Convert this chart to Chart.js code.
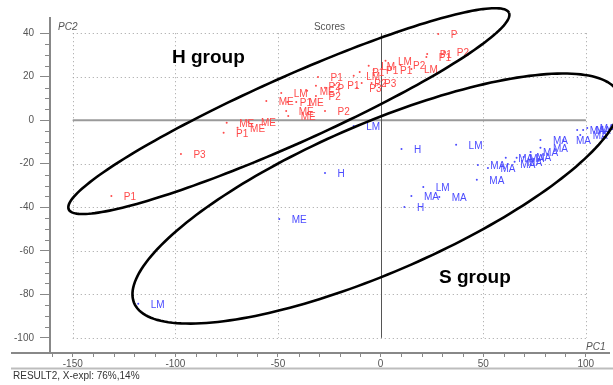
<!DOCTYPE html>
<html>
<head>
<meta charset="utf-8">
<script src="https://cdn.jsdelivr.net/npm/chart.js@4.4.1/dist/chart.umd.min.js"></script>
<style>
  html, body { margin: 0; padding: 0; background: #fff; }
  #wrap { width: 613px; height: 385px; }
</style>
</head>
<body>
<div id="wrap"><canvas id="chart-1" width="613" height="385"></canvas></div>
<script>
// H group (red) samples
const hNames = ['P1', 'P3', 'ME', 'P1', 'ME', 'ME', 'ME', 'LM', 'P1', 'ME', 'ME', 'ME',
                'P2', 'P1', 'ME', 'P2', 'P', 'P2', 'P1', 'LM', 'P1', 'LM', 'P1', 'P1',
                'LM', 'P2', 'LM', 'P1', 'P1', 'P2', 'P', 'P2', 'P3', 'P3'];
const hPC1 = [-131.2, -97.3, -75.0, -76.5, -69.7, -64.4, -55.7, -48.4, -45.5, -41.1, -46.0, -45.0,
              -27.1, -30.5, -35.8, -31.5, -27.1, -31.5, -22.3, -13.1, -10.2, -5.8, -3.4, 3.4,
              2.4, 9.7, 15.0, 22.3, 22.7, 31.0, 28.1, -9.2, -4.4, -11.6];
const hPC2 = [-34.8, -15.5, -1.2, -5.8, -3.5, -0.8, 8.9, 12.5, 8.4, 8.4, 4.3, 2.0,
              4.3, 19.9, 13.5, 15.8, 14.9, 11.2, 16.2, 20.4, 22.2, 25.0, 23.1, 23.1,
              27.3, 25.4, 23.6, 29.1, 30.5, 31.4, 39.7, 17.1, 17.1, 14.9];

// S group (blue) samples
const sNames = ['LM', 'ME', 'H', 'LM', 'H', 'LM', 'LM', 'MA', 'MA', 'H', 'MA', 'MA',
                'MA', 'MA', 'MA', 'MA', 'MA', 'MA', 'MA', 'MA', 'MA', 'MA', 'MA', 'MA',
                'MA', 'MA'];
const sPC1 = [-118.1, -49.4, -27.1, -13.1, 10.2, 36.8, 20.8, 15.0, 28.6, 11.6, 46.9, 47.4,
              52.3, 61.0, 62.0, 66.3, 69.7, 77.9, 77.9, 89.1, 95.8, 98.7, 97.3, 65.3,
              73.1, 100.7];
const sPC2 = [-84.4, -45.4, -24.2, -2.6, -13.2, -11.3, -30.7, -34.8, -35.3, -39.9, -27.4, -20.6,
              -21.9, -17.3, -20.1, -17.3, -16.9, -9.1, -12.7, -9.1, -4.5, -4.5, -6.8, -19.1,
              -14.6, -3.6];

const xTicks = [-150, -100, -50, 0, 50, 100];
const yTicks = [-100, -80, -60, -40, -20, 0, 20, 40];

// group ellipses: centre, semi axes, angle (deg), in score units
const hEllipse = { cx: -44.7, cy: 4.2, a: 116.4, b: 15.5, angle: 22.8 };
const sEllipse = { cx: -2, cy: -36, a: 127.5, b: 34.5, angle: 22 };

const red = '#ff4a4a';
const blue = '#4b4bff';
const tickFont = '10px "Liberation Sans", Arial, sans-serif';

const backdrop = {
    id: 'backdrop',
    beforeDatasetsDraw(chart) {
        const ctx = chart.ctx;
        const xs = chart.scales.x, ys = chart.scales.y;
        const area = chart.chartArea;
        const x0 = xs.getPixelForValue(xTicks[0]), x1 = xs.getPixelForValue(xTicks[xTicks.length - 1]);
        const y0 = ys.getPixelForValue(yTicks[0]), y1 = ys.getPixelForValue(yTicks[yTicks.length - 1]);
        ctx.save();
        // dotted grid
        ctx.strokeStyle = '#a0a0a0';
        ctx.lineWidth = 1;
        ctx.setLineDash([1, 3]);
        xTicks.forEach(v => {
            const p = Math.round(xs.getPixelForValue(v)) + 0.5;
            ctx.beginPath(); ctx.moveTo(p, y1); ctx.lineTo(p, y0); ctx.stroke();
        });
        yTicks.forEach(v => {
            const p = Math.round(ys.getPixelForValue(v)) + 0.5;
            ctx.beginPath(); ctx.moveTo(x0, p); ctx.lineTo(x1, p); ctx.stroke();
        });
        ctx.setLineDash([]);
        // zero lines
        ctx.strokeStyle = '#9a9a9a';
        ctx.lineWidth = 2;
        let p = ys.getPixelForValue(0);
        ctx.beginPath(); ctx.moveTo(x0, p); ctx.lineTo(x1, p); ctx.stroke();
        ctx.strokeStyle = '#555';
        ctx.lineWidth = 1;
        p = Math.round(xs.getPixelForValue(0)) + 0.5;
        ctx.beginPath(); ctx.moveTo(p, y1); ctx.lineTo(p, y0); ctx.stroke();
        // minor ticks
        ctx.strokeStyle = '#888';
        for (let v = -100; v <= 40; v += 5) {
            if (v % 20 === 0) continue;
            const q = Math.round(ys.getPixelForValue(v)) + 0.5;
            ctx.beginPath(); ctx.moveTo(area.left - 5, q); ctx.lineTo(area.left, q); ctx.stroke();
        }
        for (let v = -160; v <= 100; v += 10) {
            if (v % 50 === 0) continue;
            const q = Math.round(xs.getPixelForValue(v)) + 0.5;
            ctx.beginPath(); ctx.moveTo(q, area.bottom); ctx.lineTo(q, area.bottom + 4); ctx.stroke();
        }
        // x axis runs on past the y axis, plus footer rule
        ctx.lineWidth = 2;
        ctx.beginPath(); ctx.moveTo(11, area.bottom); ctx.lineTo(area.left, area.bottom); ctx.stroke();
        ctx.strokeStyle = '#bdbdbd';
        ctx.beginPath(); ctx.moveTo(11, 368.5); ctx.lineTo(613, 368.5); ctx.stroke();
        ctx.restore();
    }
};

function drawEllipse(chart, e) {
    const ctx = chart.ctx;
    const xs = chart.scales.x, ys = chart.scales.y;
    const th = e.angle * Math.PI / 180;
    ctx.beginPath();
    for (let i = 0; i <= 200; i++) {
        const t = i / 200 * Math.PI * 2;
        const u = e.a * Math.cos(t), w = e.b * Math.sin(t);
        const x = e.cx + u * Math.cos(th) - w * Math.sin(th);
        const y = e.cy + u * Math.sin(th) + w * Math.cos(th);
        const px = xs.getPixelForValue(x), py = ys.getPixelForValue(y);
        if (i === 0) ctx.moveTo(px, py); else ctx.lineTo(px, py);
    }
    ctx.stroke();
}

const overlay = {
    id: 'overlay',
    afterDatasetsDraw(chart) {
        const ctx = chart.ctx;
        const area = chart.chartArea;
        ctx.save();
        // sample names next to each point
        ctx.font = tickFont;
        ctx.textBaseline = 'middle';
        ctx.textAlign = 'left';
        chart.data.datasets.forEach((ds, i) => {
            const meta = chart.getDatasetMeta(i);
            ctx.fillStyle = ds.labelColor;
            meta.data.forEach((pt, j) => {
                ctx.fillText(ds.names[j], pt.x + 12.5, pt.y + 1);
            });
        });
        // ellipses
        ctx.strokeStyle = '#000';
        ctx.lineWidth = 2.6;
        drawEllipse(chart, hEllipse);
        drawEllipse(chart, sEllipse);
        // group names
        ctx.fillStyle = '#000';
        ctx.font = 'bold 19px "Liberation Sans", Arial, sans-serif';
        ctx.fillText('H group', 172, 58);
        ctx.fillText('S group', 439, 278);
        // title, axis names, footer
        ctx.fillStyle = '#555';
        ctx.font = tickFont;
        ctx.textAlign = 'center';
        ctx.fillText('Scores', (area.left + area.right) / 2, 27);
        ctx.textAlign = 'left';
        ctx.font = 'italic ' + tickFont;
        ctx.fillText('PC2', 58, 27);
        ctx.fillText('PC1', 586, 347);
        ctx.fillStyle = '#333';
        ctx.font = tickFont;
        ctx.fillText('RESULT2, X-expl: 76%,14%', 13, 376);
        ctx.restore();
    }
};

const hData = hPC1.map((x, i) => ({ x: x, y: hPC2[i] }));
const sData = sPC1.map((x, i) => ({ x: x, y: sPC2[i] }));

const config = {
    type: 'scatter',
    data: {
        datasets: [
            {
                label: 'H group',
                data: hData,
                names: hNames,
                labelColor: red,
                backgroundColor: red,
                borderWidth: 0,
                pointRadius: 1,
            },
            {
                label: 'S group',
                data: sData,
                names: sNames,
                labelColor: blue,
                backgroundColor: blue,
                borderWidth: 0,
                pointRadius: 1,
            }
        ]
    },
    options: {
        responsive: false,
        animation: false,
        events: [],
        layout: { padding: { top: 18, right: 0, bottom: 17, left: 0 } },
        plugins: {
            legend: { display: false },
            tooltip: { enabled: false },
            title: { display: false }
        },
        scales: {
            x: {
                type: 'linear',
                min: -161.1,
                max: 111.3,
                afterBuildTicks: s => { s.ticks = xTicks.map(v => ({ value: v })); },
                afterFit: s => { s.height = 15; },
                grid: { drawOnChartArea: false, drawTicks: true, tickLength: 4, tickColor: '#888' },
                border: { display: true, color: '#888', width: 2 },
                ticks: { font: { family: '"Liberation Sans", Arial, sans-serif', size: 10 }, color: '#555', padding: 1, maxRotation: 0 }
            },
            y: {
                type: 'linear',
                min: -107.0,
                max: 47.0,
                afterBuildTicks: s => { s.ticks = yTicks.map(v => ({ value: v })); },
                afterFit: s => { s.width = 50; },
                grid: { drawOnChartArea: false, drawTicks: true, tickLength: 10, tickColor: '#888' },
                border: { display: true, color: '#888', width: 2 },
                ticks: { font: { family: '"Liberation Sans", Arial, sans-serif', size: 10 }, color: '#555', padding: 6 }
            }
        }
    },
    plugins: [backdrop, overlay]
};

const ctx = document.getElementById('chart-1').getContext('2d');
new Chart(ctx, config);
</script>
</body>
</html>
